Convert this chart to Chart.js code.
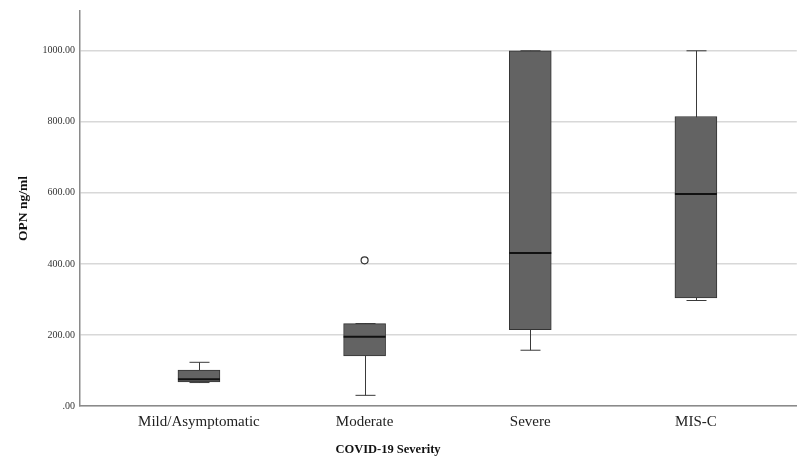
<!DOCTYPE html>
<html>
<head>
<meta charset="utf-8">
<script src="https://cdn.jsdelivr.net/npm/chart.js@4/dist/chart.umd.min.js"></script>
<style>
  html, body { margin: 0; padding: 0; background: #fff; }
  #wrap { width: 802px; height: 458px; }
</style>
</head>
<body>
<div id="wrap"><canvas id="box-chart" width="802" height="458"></canvas></div>
<script>
( function() {

  // --- data
  var categories = [ 'Mild/Asymptomatic', 'Moderate', 'Severe', 'MIS-C' ];
  var whiskerLow = [ 66, 30, 157, 297 ];
  var q1 = [ 68, 141, 215, 304 ];
  var median = [ 75, 195, 431, 597 ];
  var q3 = [ 101, 232, 1000, 815 ];
  var whiskerHigh = [ 123, 232, 1000, 1000 ];
  var outliers = [ { cat: 2, value: 410 } ];
  var yTicks = [ 0, 200, 400, 600, 800, 1000 ];

  var serif = "'Liberation Serif', 'Times New Roman', serif";

  var boxData = categories.map( function( c, i ) {
    return { x: i + 1, y: [ q1[ i ], q3[ i ] ] };
  } );

  var outlierData = outliers.map( function( o ) {
    return { x: o.cat, y: o.value };
  } );

  // whiskers behind the boxes, medians on top, x title
  var boxPlugin = {
    id: 'boxParts',
    beforeDatasetsDraw: function( chart ) {
      var ctx = chart.ctx;
      var xs = chart.scales.x, ys = chart.scales.y;
      ctx.save();
      ctx.strokeStyle = '#3a3a3a';
      ctx.lineWidth = 1;
      categories.forEach( function( c, i ) {
        var x = Math.round( xs.getPixelForValue( i + 1 ) ) + 0.5;
        var lo = ys.getPixelForValue( whiskerLow[ i ] );
        var hi = ys.getPixelForValue( whiskerHigh[ i ] );
        ctx.beginPath();
        ctx.moveTo( x, lo ); ctx.lineTo( x, hi );
        ctx.moveTo( x - 10, lo ); ctx.lineTo( x + 10, lo );
        ctx.moveTo( x - 10, hi ); ctx.lineTo( x + 10, hi );
        ctx.stroke();
      } );
      ctx.restore();
    },
    afterDatasetsDraw: function( chart ) {
      var ctx = chart.ctx;
      var xs = chart.scales.x, ys = chart.scales.y;
      ctx.save();
      ctx.strokeStyle = '#111';
      ctx.lineWidth = 2;
      categories.forEach( function( c, i ) {
        var x = xs.getPixelForValue( i + 1 );
        var y = ys.getPixelForValue( median[ i ] );
        ctx.beginPath();
        ctx.moveTo( x - 21, y ); ctx.lineTo( x + 21, y );
        ctx.stroke();
      } );
      ctx.fillStyle = '#111';
      ctx.font = 'bold 12.5px ' + serif;
      ctx.textAlign = 'center';
      ctx.textBaseline = 'middle';
      ctx.fillText( 'COVID-19 Severity', 388, 450 );
      ctx.restore();
    }
  };

  var config = {
    type: 'bar',
    data: {
      datasets: [
        {
          data: boxData,
          backgroundColor: '#636363',
          borderColor: '#333',
          borderWidth: 1,
          borderSkipped: false,
          barThickness: 42
        },
        {
          type: 'scatter',
          data: outlierData,
          pointRadius: 3.5,
          pointBorderWidth: 1.2,
          pointBackgroundColor: '#fff',
          pointBorderColor: '#333'
        }
      ]
    },
    options: {
      responsive: false,
      animation: false,
      layout: { padding: { top: 10, right: 0, left: 0, bottom: 0 } },
      plugins: {
        legend: { display: false },
        tooltip: { enabled: false }
      },
      scales: {
        x: {
          type: 'linear',
          offset: false,
          min: 0.282,
          max: 4.609,
          grid: { display: false, drawTicks: false },
          border: { display: true, color: '#8a8a8a', width: 1.5 },
          afterBuildTicks: function( scale ) {
            scale.ticks = categories.map( function( c, i ) { return { value: i + 1 }; } );
          },
          afterFit: function( scale ) {
            scale.height = 52;
            scale.paddingLeft = 0;
            scale.paddingRight = 0;
          },
          ticks: {
            autoSkip: false,
            maxRotation: 0,
            padding: 7,
            color: '#222',
            font: { family: serif, size: 15 },
            callback: function( v ) { return categories[ v - 1 ]; }
          }
        },
        y: {
          min: 0,
          max: 1112,
          grid: { color: '#d8d8d8', lineWidth: 1.5, drawTicks: false },
          border: { display: true, color: '#8a8a8a', width: 1.5 },
          afterBuildTicks: function( scale ) {
            scale.ticks = yTicks.map( function( v ) { return { value: v }; } );
          },
          afterFit: function( scale ) { scale.width = 80; },
          ticks: {
            padding: 5,
            color: '#333',
            font: { family: serif, size: 10 },
            callback: function( v ) { return v === 0 ? '.00' : v.toFixed( 2 ); }
          },
          title: {
            display: true,
            text: 'OPN ng/ml',
            color: '#111',
            padding: { top: 15, bottom: 0 },
            font: { family: serif, size: 13.5, weight: 'bold' }
          }
        }
      }
    },
    plugins: [ boxPlugin ]
  };

  new Chart( document.getElementById( 'box-chart' ), config );

} )();
</script>
</body>
</html>
